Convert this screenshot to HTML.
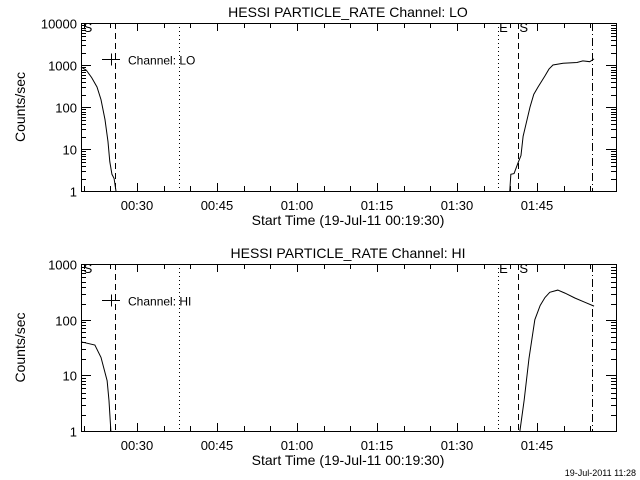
<!DOCTYPE html>
<html><head><meta charset="utf-8"><style>
body{margin:0;background:#fff;}
svg{display:block;font-family:"Liberation Sans",sans-serif;}
</style></head><body>
<svg id="c" width="640" height="480" xmlns="http://www.w3.org/2000/svg"></svg>
<script>
const xTickLabels=["00:30","00:45","01:00","01:15","01:30","01:45"];
const xTickMinutes=[10.5,25.5,40.5,55.5,70.5,85.5];
const loLeftT=[0,1,2,3,3.75,4.5,5.06,5.4,5.8,6.2,6.56];
const loLeftV=[900,750,500,300,150,50,15,5,2.5,2,1];
const loRightT=[80.4,80.6,81.2,81.9,82.5,82.9,84.2,84.9,85.7,87.0,87.75,88.5,90.4,93.0,94.1,95.4,96.2];
const loRightV=[1,2.5,2.6,4.5,7,20,100,200,300,550,800,1000,1100,1150,1250,1200,1400];
const hiLeftT=[0,2.6,3.75,4.9,5.25,5.6];
const hiLeftV=[40,35,21,8,3.5,1];
const hiRightT=[82.3,83.1,84,85.1,86.1,87,87.9,89.4,90.75,92.6,94.5,96.2];
const hiRightV=[1,3.6,20,100,180,250,310,340,300,245,205,175];
const eventT=[6.4,18.3,78.1,81.9,95.9];
const eventStyle=["6,4","1,3","1,3","6,4","8,3,1,3"];

const svg=document.getElementById('c');
const NS="http://www.w3.org/2000/svg";
function mk(t,a,p){const e=document.createElementNS(NS,t);for(const k in a)e.setAttribute(k,a[k]);(p||svg).appendChild(e);return e;}
const X0=81,X1=616,PXM=5.333;
function xs(m){return X0+m*PXM;}
function panel(name,top,bot,decs,title,leg,lt,lv,rt,rv){
  const g=mk('g',{});
  
  
  const pd=(bot-top)/decs;
  const ys=v=>bot-Math.log10(Math.max(v,1))*pd;
  const t=mk('text',{x:348,y:top-6,'text-anchor':'middle','font-size':14},g);t.textContent=title;
  
  const fr=mk('rect',{x:X0+0.5,y:top+0.5,width:X1-X0,height:bot-top,fill:'none',stroke:'#000','stroke-width':1},g);
  
  for(let d=0;d<=decs;d++){
    const y=Math.round(bot-d*pd)+0.5;
    mk('line',{x1:X0,x2:X0+10,y1:y,y2:y,stroke:'#000'},g);
    mk('line',{x1:X1,x2:X1-10,y1:y,y2:y,stroke:'#000'},g);
    const l=mk('text',{x:X0-4,y:y+5,'text-anchor':'end','font-size':13},g);l.textContent=String(Math.pow(10,d));
    
    if(d<decs)for(let k=2;k<10;k++){const yy=Math.round(y-Math.log10(k)*pd)+0.5;
      mk('line',{x1:X0,x2:X0+5,y1:yy,y2:yy,stroke:'#000'},g);mk('line',{x1:X1,x2:X1-5,y1:yy,y2:yy,stroke:'#000'},g);}
  }
  for(let m=0.5;m<=100;m+=5){const x=Math.round(xs(m))+0.5;const maj=xTickMinutes.includes(m);const h=maj?8:5;
    mk('line',{x1:x,x2:x,y1:bot,y2:bot-h,stroke:'#000'},g);mk('line',{x1:x,x2:x,y1:top,y2:top+h,stroke:'#000'},g);}
  xTickMinutes.forEach((m,i)=>{const l=mk('text',{x:xs(m),y:bot+19,'text-anchor':'middle','font-size':13},g);l.textContent=xTickLabels[i];
    });
  const xl=mk('text',{x:348,y:bot+34,'text-anchor':'middle','font-size':14},g);xl.textContent="Start Time (19-Jul-11 00:19:30)";
  
  const yl=mk('text',{x:0,y:0,'text-anchor':'middle','font-size':14,transform:`translate(25,${(top+bot)/2}) rotate(-90)`},g);yl.textContent="Counts/sec";
  
  eventT.forEach((m,i)=>{const x=Math.round(xs(m))+0.5;const v=mk('line',{x1:x,x2:x,y1:top,y2:bot,stroke:'#000','stroke-dasharray':eventStyle[i]},g);
    });
  [["S",X0+7],["E",xs(eventT[2])+6],["S",xs(eventT[3])+6]].forEach(a=>{const l=mk('text',{x:a[1],y:top+9,'text-anchor':'middle','font-size':13},g);l.textContent=a[0];
    });
  const ly=top+36.5;
  mk('line',{x1:102,x2:120,y1:ly,y2:ly,stroke:'#000'},g);mk('line',{x1:111.5,x2:111.5,y1:ly-6,y2:ly+6,stroke:'#000'},g);
  const lt2=mk('text',{x:128,y:ly+5,'font-size':12},g);lt2.textContent=leg;
  
  [[lt,lv],[rt,rv]].forEach(s=>{const p=mk('polyline',{points:s[0].map((m,i)=>xs(m)+','+ys(s[1][i])).join(' '),fill:'none',stroke:'#000'},g);
    });
}
panel('lo',23,191,4,"HESSI PARTICLE_RATE Channel: LO","Channel: LO",loLeftT,loLeftV,loRightT,loRightV);
panel('hi',264,431,3,"HESSI PARTICLE_RATE Channel: HI","Channel: HI",hiLeftT,hiLeftV,hiRightT,hiRightV);
const ts=mk('text',{x:636,y:476,'text-anchor':'end','font-size':9});ts.textContent="19-Jul-2011 11:28";

</script>
</body></html>
